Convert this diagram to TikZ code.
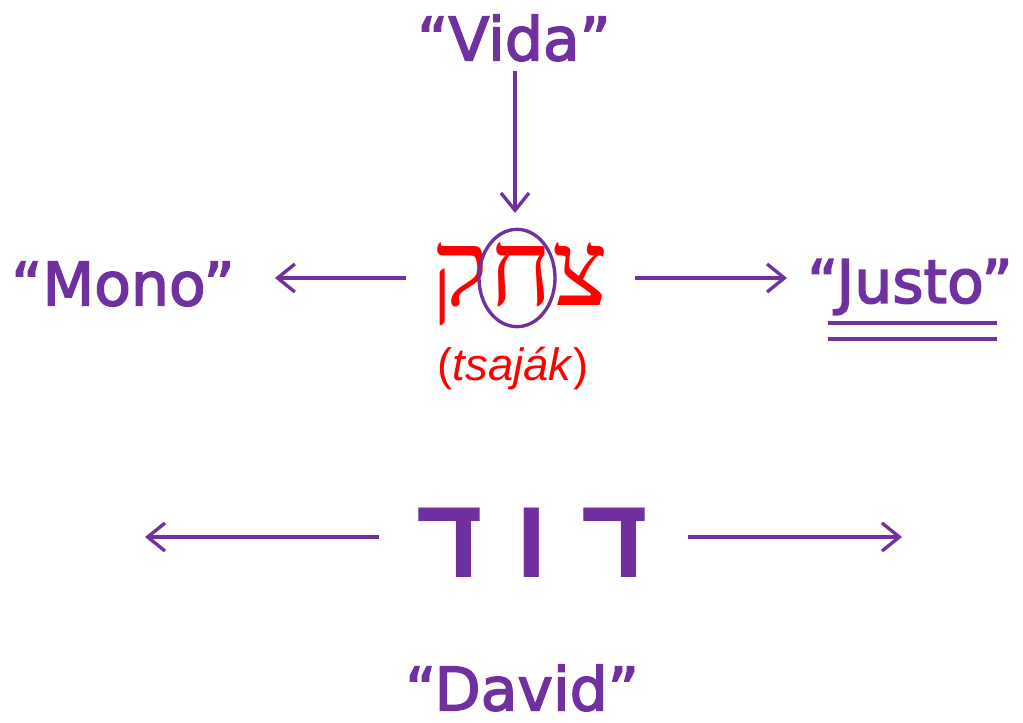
\documentclass[tikz,border=0pt]{standalone}
\usepackage{fontspec}
\setmainfont{DejaVu Sans}[FakeBold=2.6]
\newfontfamily\hebserif[Script=Hebrew]{Liberation Serif}
\newfontfamily\hebsans[Script=Hebrew]{Liberation Sans}
\newfontfamily\arialfont{Liberation Sans}
\TeXXeTstate=1
\usepackage{tikz}
\usetikzlibrary{arrows.meta, shapes.geometric}
\definecolor{morado}{HTML}{7030A0}
\definecolor{rojo}{HTML}{FF0000}

\begin{document}
\begin{tikzpicture}[
    x=0.75pt, y=-0.75pt,
    every node/.style={inner sep=0pt, text=morado},
    palabra/.style={font=\fontsize{45}{52}\selectfont},
    flecha/.style={draw=morado, line width=2.5pt,
      -{Straight Barb[length=13pt, width=21pt, line width=2.5pt]}},
    marca/.style={ellipse, draw=morado, line width=2.5pt,
      minimum width=57pt, minimum height=73pt},
  ]
    \useasboundingbox (0,0) rectangle (1023,723);

    % palabras en hebreo
    \node (tsajak) at (520,284) {\textcolor{rojo}{\hebserif\fontsize{80}{90}\selectfont\beginR צחק\endR}};
    \node[text=rojo, font=\arialfont\fontsize{34}{40}\selectfont] (translit) at (513,369) {(\textit{tsaják})};
    \node (david) at (532,543) {\hebsans\bfseries\fontsize{86}{96}\selectfont\beginR ד ו ד\endR};

    % letra marcada
    \node[marca] (chet) at (517,278) {};

    % significados
    \node[palabra] (vida)   at (514,38)  {“Vida”};
    \node[palabra] (mono)   at (123,284) {“Mono”};
    \node[palabra] (justo)  at (910,287) {“Justo”};
    \node[palabra] (nombre) at (522,688) {“David”};

    % ejes de las flechas
    \coordinate (eje1) at (515,278);
    \coordinate (izq)  at (145,537);
    \coordinate (der)  at (902,537);

    % doble subrayado
    \draw[morado, line width=2.5pt] (828,323) -- (997,323);
    \draw[morado, line width=2.5pt] (828,339) -- (997,339);

    % flechas
    \draw[flecha, shorten <=7pt, shorten >=11pt] (vida.south -| eje1) -- (chet.north -| eje1);
    \draw[flecha, shorten <=19pt, shorten >=30pt] (tsajak.west |- eje1) -- (mono.east |- eje1);
    \draw[flecha, shorten <=20pt, shorten >=15pt] (tsajak.east |- eje1) -- (justo.west |- eje1);
    \draw[flecha, shorten <=28pt] (david.west |- izq) -- (izq);
    \draw[flecha, shorten <=30pt] (david.east |- der) -- (der);
  \end{tikzpicture}
\end{document}
